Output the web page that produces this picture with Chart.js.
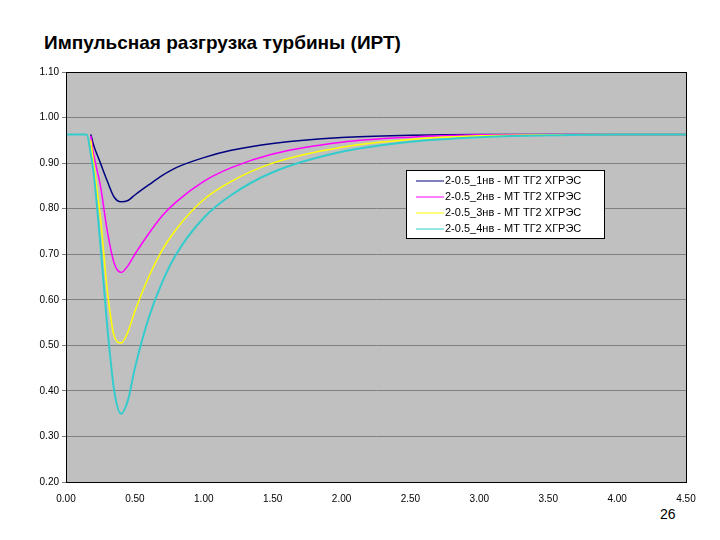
<!DOCTYPE html>
<html><head><meta charset="utf-8">
<script src="https://cdn.jsdelivr.net/npm/chart.js@4/dist/chart.umd.min.js"></script>
<style>
body{margin:0;background:#fff;width:720px;height:540px;position:relative;overflow:hidden;font-family:"Liberation Sans",Arial,sans-serif}
#title{position:absolute;left:44px;top:32px;font-size:19px;font-weight:bold;color:#000}
#page{position:absolute;left:660px;top:506px;font-size:14px;color:#000}
canvas{position:absolute;left:0;top:0}
</style></head><body>
<div id="title">Импульсная разгрузка турбины (ИРТ)</div>
<div id="page">26</div>
<canvas id="c" width="720" height="540"></canvas>
<script>
const seriesLabels = ["2-0.5_1нв - МТ ТГ2 ХГРЭС", "2-0.5_2нв - МТ ТГ2 ХГРЭС", "2-0.5_3нв - МТ ТГ2 ХГРЭС", "2-0.5_4нв - МТ ТГ2 ХГРЭС"];
const seriesColors = ["#000080", "#ff00ff", "#ffff00", "#33cccc"];
const times = [0.18, 0.2, 0.25, 0.3, 0.35, 0.4, 0.45, 0.5, 0.6, 0.7, 0.8, 1.0, 1.2, 1.5, 2.0, 2.5, 3.0, 3.5, 4.0, 4.5];
const nv1 = [0.963, 0.94, 0.90, 0.86, 0.825, 0.815, 0.818, 0.83, 0.852, 0.873, 0.89, 0.912, 0.928, 0.943, 0.956, 0.961, 0.963, 0.963, 0.963, 0.963];
const nv2 = [0.96, 0.92, 0.85, 0.75, 0.68, 0.66, 0.675, 0.70, 0.745, 0.785, 0.815, 0.86, 0.89, 0.92, 0.946, 0.957, 0.962, 0.963, 0.963, 0.963];
const nv3 = [0.95, 0.90, 0.78, 0.62, 0.52, 0.505, 0.53, 0.575, 0.65, 0.71, 0.755, 0.82, 0.86, 0.90, 0.935, 0.952, 0.96, 0.962, 0.963, 0.963];
const times4 = [0, 0.15, 0.18, 0.2, 0.25, 0.3, 0.35, 0.4, 0.45, 0.5, 0.6, 0.7, 0.8, 1.0, 1.2, 1.5, 2.0, 2.5, 3.0, 3.5, 4.0, 4.5];
const nv4 = [0.963, 0.963, 0.92, 0.88, 0.72, 0.54, 0.40, 0.35, 0.38, 0.45, 0.56, 0.64, 0.70, 0.78, 0.83, 0.88, 0.925, 0.947, 0.957, 0.961, 0.963, 0.963];

const pts = (xs, ys) => xs.map((x, i) => ({x, y: ys[i]}));
const allSeries = [pts(times, nv1), pts(times, nv2), pts(times, nv3), pts(times4, nv4)];

const plotBg = {
  id: "plotBg",
  beforeDraw(chart) {
    const {ctx, chartArea: a} = chart;
    ctx.save();
    ctx.fillStyle = "#c0c0c0";
    ctx.fillRect(a.left, a.top, a.right - a.left, a.bottom - a.top);
    ctx.restore();
  },
  afterDraw(chart) {
    const {ctx, chartArea: a} = chart;
    ctx.save();
    ctx.strokeStyle = "#000";
    ctx.lineWidth = 1;
    ctx.strokeRect(a.left + 0.5, a.top + 0.5, a.right - a.left, a.bottom - a.top);
    // legend box, in series order
    const x = 406, y = 170, w = 198, h = 68;
    ctx.fillStyle = "#fff";
    ctx.fillRect(x, y, w, h);
    ctx.strokeStyle = "#000";
    ctx.strokeRect(x + 0.5, y + 0.5, w, h);
    ctx.font = "11px 'Liberation Sans', Arial";
    ctx.textBaseline = "middle";
    seriesLabels.forEach((label, i) => {
      const ly = y + 11 + i * 16;
      ctx.strokeStyle = seriesColors[i];
      ctx.beginPath();
      ctx.moveTo(x + 10, ly);
      ctx.lineTo(x + 38, ly);
      ctx.stroke();
      ctx.fillStyle = "#000";
      ctx.fillText(label, x + 39, ly);
    });
    ctx.restore();
  }
};

new Chart(document.getElementById("c"), {
  type: "line",
  data: {
    datasets: allSeries.map((d, i) => ({
      label: seriesLabels[i],
      data: d,
      borderColor: seriesColors[i],
      borderWidth: i === 3 ? 2 : 1.5,
      pointRadius: 0,
      cubicInterpolationMode: "monotone",
      fill: false,
    })).reverse(),
  },
  options: {
    responsive: false,
    animation: false,
    layout: {padding: {left: 0, right: 34, top: 72, bottom: 0}},
    plugins: {legend: {display: false}, tooltip: {enabled: false}},
    scales: {
      x: {
        type: "linear", min: 0, max: 4.5,
        ticks: {stepSize: 0.5, callback: v => v.toFixed(2), color: "#000", font: {size: 10}},
        grid: {display: false},
        border: {color: "#000"},
        afterFit: s => { s.height = 58; },
      },
      y: {
        min: 0.2, max: 1.1,
        ticks: {stepSize: 0.1, callback: v => v.toFixed(2), color: "#000", font: {size: 10}},
        grid: {color: "#808080", drawTicks: true, tickLength: 4},
        border: {color: "#000"},
        afterFit: s => { s.width = 66; },
      },
    },
  },
  plugins: [plotBg],
});
</script>
</body></html>
